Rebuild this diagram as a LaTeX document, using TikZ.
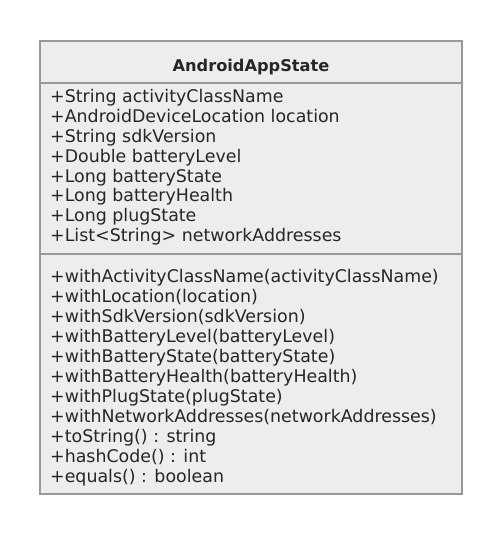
\documentclass[tikz,border=0pt]{standalone}
\usepackage{fontspec}
\setmainfont{DejaVu Sans}
\begin{document}
\begin{tikzpicture}[x=1pt,y=-1pt,
  boxline/.style={draw=black!40,line width=1.5pt},
  member/.style={anchor=west,inner sep=0pt,font=\fontsize{17.4}{18}\selectfont,text=black!85,text height=12pt,text depth=3.5pt},
  title/.style={anchor=center,inner sep=0pt,font=\fontsize{16.2}{18}\selectfont\bfseries,text=black!85}]
\useasboundingbox (0,0) rectangle (502,536);
\fill[white] (0,0) rectangle (502,536);
\draw[boxline,fill=black!7] (40,41) rectangle (462,494);
\draw[boxline] (40,83) -- (462,83);
\draw[boxline] (40,254) -- (462,254);
\node[title] (t) at (251,67) {AndroidAppState};
\node[member] (a1) at (50,98.5) {+String activityClassName};
\node[member] (a2) at (50,118.5) {+AndroidDeviceLocation location};
\node[member] (a3) at (50,138) {+String sdkVersion};
\node[member] (a4) at (50,158) {+Double batteryLevel};
\node[member] (a5) at (50,178) {+Long batteryState};
\node[member] (a6) at (50,197.5) {+Long batteryHealth};
\node[member] (a7) at (50,217.5) {+Long plugState};
\node[member] (a8) at (50,237.5) {+List<String> networkAddresses};
\node[member] (m1) at (50,278.5) {+withActivityClassName(activityClassName)};
\node[member] (m2) at (50,298.5) {+withLocation(location)};
\node[member] (m3) at (50,318.5) {+withSdkVersion(sdkVersion)};
\node[member] (m4) at (50,338.5) {+withBatteryLevel(batteryLevel)};
\node[member] (m5) at (50,358.5) {+withBatteryState(batteryState)};
\node[member] (m6) at (50,378.5) {+withBatteryHealth(batteryHealth)};
\node[member] (m7) at (50,398.5) {+withPlugState(plugState)};
\node[member] (m8) at (50,418.5) {+withNetworkAddresses(networkAddresses)};
\node[member] (m9) at (50,438.5) {+toString() : string};
\node[member] (m10) at (50,458.5) {+hashCode() : int};
\node[member] (m11) at (50,478.5) {+equals() : boolean};
\end{tikzpicture}
\end{document}
